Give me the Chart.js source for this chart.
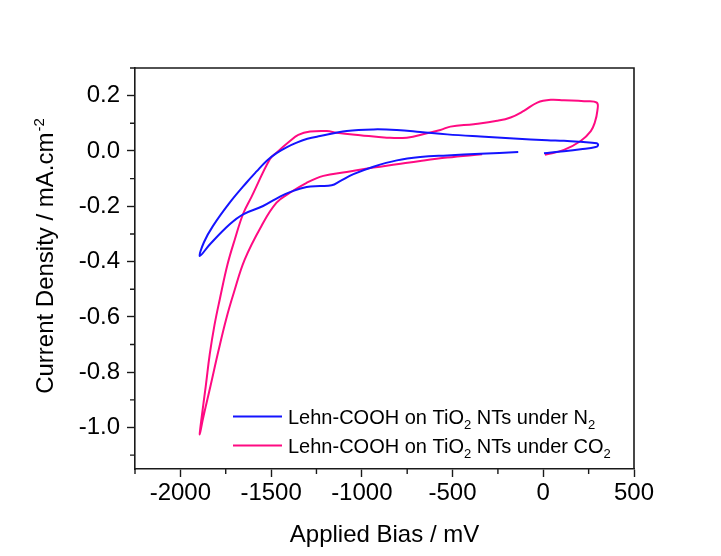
<!DOCTYPE html>
<html><head><meta charset="utf-8">
<script src="https://cdn.jsdelivr.net/npm/chart.js@4/dist/chart.umd.min.js"></script>
<style>html,body{margin:0;padding:0;background:#fff;}#wrap{width:721px;height:556px;}</style>
</head><body><div id="wrap"><canvas id="c" width="721" height="556"></canvas></div>
<script>
// ---- data (mV, mA.cm-2) ----
const n2Bias = [4, 114, 206, 289, 302, 295, 206, 114, 22, -162, -346, -530, -678, -807, -936, -1083, -1230, -1300, -1359, -1415, -1470, -1525, -1580, -1635, -1728, -1820, -1870, -1893,
  -1838, -1728, -1654, -1544, -1451, -1396, -1304, -1230, -1166, -1120, -1046, -936, -807, -678, -530, -346, -138];
const n2Current = [-0.008, -0.001, 0.006, 0.014, 0.021, 0.028, 0.033, 0.037, 0.039, 0.045, 0.052, 0.060, 0.069, 0.076, 0.078, 0.072, 0.054, 0.044, 0.030, 0.013, -0.008, -0.036, -0.074, -0.114, -0.187, -0.271, -0.330, -0.380,
  -0.338, -0.265, -0.229, -0.199, -0.165, -0.149, -0.130, -0.127, -0.124, -0.109, -0.084, -0.057, -0.034, -0.022, -0.016, -0.010, -0.004];
const co2Bias = [9, 114, 206, 262, 284, 298, 295, 225, 114, 41, -33, -107, -180, -254, -383, -512, -567, -641, -752, -862, -1009, -1138, -1193, -1285, -1350, -1396, -1470, -1507, -1608, -1654, -1700, -1740, -1783, -1812, -1838, -1860, -1884, -1893,
  -1876, -1834, -1792, -1748, -1705, -1645, -1553, -1470, -1396, -1304, -1212, -1083, -936, -807, -678, -530, -337];
const co2Current = [-0.014, 0.004, 0.036, 0.072, 0.103, 0.145, 0.175, 0.180, 0.183, 0.185, 0.175, 0.145, 0.121, 0.109, 0.097, 0.088, 0.076, 0.064, 0.048, 0.048, 0.057, 0.066, 0.072, 0.070, 0.058, 0.036, -0.006, -0.030, -0.166, -0.227, -0.320, -0.410, -0.537, -0.630, -0.735, -0.850, -0.970, -1.025,
  -0.970, -0.850, -0.728, -0.609, -0.512, -0.392, -0.271, -0.187, -0.151, -0.115, -0.090, -0.076, -0.060, -0.048, -0.036, -0.024, -0.012];
const xTicks = [-2000, -1500, -1000, -500, 0, 500];
const xMinor = [-2250, -1750, -1250, -750, -250, 250];
const yTicks = [0.2, 0.0, -0.2, -0.4, -0.6, -0.8, -1.0];
const yMinor = [0.3, 0.1, -0.1, -0.3, -0.5, -0.7, -0.9, -1.1];
const seriesNames = ['N2', 'CO2'];
const legendParts = [
  [['Lehn-COOH on TiO', 0], ['2', 1], [' NTs under N', 0], ['2', 1]],
  [['Lehn-COOH on TiO', 0], ['2', 1], [' NTs under CO', 0], ['2', 1]]
];
const colors = ['#1414ff', '#ff0a82'];
const FONT = '"Liberation Sans", Arial, sans-serif';
const INK = '#1a1a1a';

const extras = {
  id: 'extras',
  afterDraw(chart) {
    const ctx = chart.ctx, a = chart.chartArea, xs = chart.scales.x, ys = chart.scales.y;
    ctx.save();
    ctx.strokeStyle = INK; ctx.lineWidth = 1.6;
    ctx.beginPath();
    ctx.moveTo(a.left, a.top); ctx.lineTo(a.right, a.top); ctx.lineTo(a.right, a.bottom);
    ctx.stroke();
    ctx.lineWidth = 1.4;
    ctx.beginPath();
    xMinor.forEach(v => { const p = xs.getPixelForValue(v); ctx.moveTo(p, a.bottom); ctx.lineTo(p, a.bottom + 5); });
    yMinor.forEach(v => { const p = ys.getPixelForValue(v); ctx.moveTo(a.left, p); ctx.lineTo(a.left - 5, p); });
    ctx.stroke();
    const rows = [416.5, 445.5];
    legendParts.forEach((parts, i) => {
      const y = rows[i];
      ctx.strokeStyle = colors[i]; ctx.lineWidth = 2;
      ctx.beginPath(); ctx.moveTo(233, y); ctx.lineTo(282, y); ctx.stroke();
      let x = 288;
      ctx.fillStyle = '#000'; ctx.textBaseline = 'alphabetic'; ctx.textAlign = 'left';
      parts.forEach(([t, sub]) => {
        ctx.font = (sub ? '13px ' : '20px ') + FONT;
        ctx.fillText(t, x, y + 7 + (sub ? 5 : 0));
        x += ctx.measureText(t).width;
      });
    });
    ctx.fillStyle = '#000';
    ctx.font = '24px ' + FONT; ctx.textAlign = 'center'; ctx.textBaseline = 'alphabetic';
    ctx.fillText('Applied Bias / mV', (a.left + a.right) / 2, 542);
    ctx.save();
    ctx.translate(53, 256.5);
    ctx.rotate(-Math.PI / 2);
    const main = 'Current Density / mA.cm', sup = '-2';
    ctx.font = '24px ' + FONT; const w1 = ctx.measureText(main).width;
    ctx.font = '15px ' + FONT; const w2 = ctx.measureText(sup).width;
    const sx = -(w1 + w2) / 2;
    ctx.textAlign = 'left';
    ctx.font = '24px ' + FONT; ctx.fillText(main, sx, 0);
    ctx.font = '15px ' + FONT; ctx.fillText(sup, sx + w1 + 1, -9);
    ctx.restore();
    ctx.restore();
  }
};

const mk = (xsArr, ysArr) => xsArr.map((x, i) => ({ x, y: ysArr[i] }));

new Chart(document.getElementById('c'), {
  type: 'scatter',
  data: {
    datasets: [
      { label: seriesNames[0], data: mk(n2Bias, n2Current), showLine: true, borderColor: colors[0], borderWidth: 2, pointRadius: 0, tension: 0.4, fill: false },
      { label: seriesNames[1], data: mk(co2Bias, co2Current), showLine: true, borderColor: colors[1], borderWidth: 2, pointRadius: 0, tension: 0.4, fill: false }
    ]
  },
  options: {
    responsive: false, animation: false, devicePixelRatio: 1,
    layout: { padding: { top: 68, right: 87, left: 0, bottom: 0 } },
    plugins: { legend: { display: false }, tooltip: { enabled: false } },
    scales: {
      x: {
        type: 'linear', min: -2250, max: 500,
        afterFit: s => { s.height = 87; },
        afterBuildTicks: s => { s.ticks = xTicks.map(v => ({ value: v })); },
        ticks: { color: '#000', font: { family: FONT, size: 24 }, padding: 2, maxRotation: 0, callback: v => String(v) },
        grid: { drawOnChartArea: false, drawTicks: true, tickLength: 8, tickWidth: 1.4, tickColor: INK },
        border: { display: true, color: INK, width: 1.6 }
      },
      y: {
        type: 'linear', min: -1.15, max: 0.3,
        afterFit: s => { s.width = 135; },
        afterBuildTicks: s => { s.ticks = yTicks.map(v => ({ value: v })); },
        ticks: { color: '#000', font: { family: FONT, size: 24 }, padding: 7, callback: v => Number(v).toFixed(1) },
        grid: { drawOnChartArea: false, drawTicks: true, tickLength: 8, tickWidth: 1.4, tickColor: INK },
        border: { display: true, color: INK, width: 1.6 }
      }
    }
  },
  plugins: [extras]
});
</script>
</body></html>
